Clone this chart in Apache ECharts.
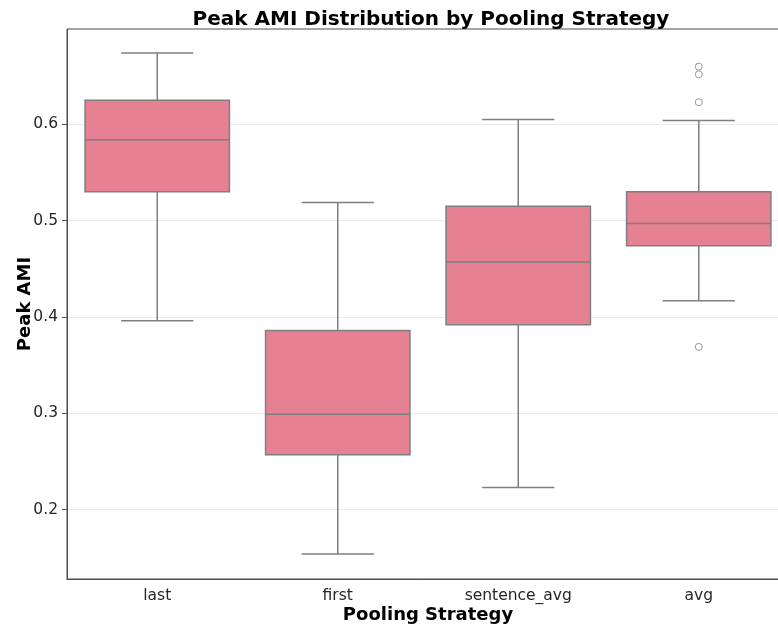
<!DOCTYPE html>
<html>
<head>
<meta charset="utf-8">
<script src="https://cdn.jsdelivr.net/npm/echarts@6/dist/echarts.min.js"></script>
<style>
  html, body { margin: 0; padding: 0; background: #fff; }
  #chart { width: 778px; height: 628px; }
</style>
</head>
<body>
<div id="chart"></div>
<script>
// pooling strategies, in plotting order
var categories = ['last', 'first', 'sentence_avg', 'avg']
// box stats
var whiskerLow = [0.396, 0.154, 0.223, 0.417]
var q1 = [0.530, 0.257, 0.392, 0.474]
var median = [0.584, 0.299, 0.457, 0.497]
var q3 = [0.625, 0.386, 0.515, 0.530]
var whiskerHigh = [0.674, 0.519, 0.605, 0.604]
// fliers: [category, value]
var outliers = [
  ['avg', 0.660],
  ['avg', 0.652],
  ['avg', 0.623],
  ['avg', 0.369]
]
var yTicks = [0.2, 0.3, 0.4, 0.5, 0.6]

var boxFill = '#e68193'
var lineColor = '#7f7f7f'

var boxData = categories.map(function (c, i) {
  return [i, whiskerLow[i], q1[i], median[i], q3[i], whiskerHigh[i]]
})

function renderBox(params, api) {
  var i = api.value(0)
  var band = api.size([1, 0])[0]
  var boxW = band * 0.8
  var capW = boxW / 2
  var pLow = api.coord([i, api.value(1)])
  var pQ1 = api.coord([i, api.value(2)])
  var pMed = api.coord([i, api.value(3)])
  var pQ3 = api.coord([i, api.value(4)])
  var pHigh = api.coord([i, api.value(5)])
  var cx = pMed[0]
  var lineStyle = { stroke: lineColor, lineWidth: 1.5, fill: null }
  return {
    type: 'group',
    children: [
      { type: 'line', shape: { x1: cx, y1: pHigh[1], x2: cx, y2: pQ3[1] }, style: lineStyle },
      { type: 'line', shape: { x1: cx, y1: pQ1[1], x2: cx, y2: pLow[1] }, style: lineStyle },
      { type: 'line', shape: { x1: cx - capW / 2, y1: pHigh[1], x2: cx + capW / 2, y2: pHigh[1] }, style: lineStyle },
      { type: 'line', shape: { x1: cx - capW / 2, y1: pLow[1], x2: cx + capW / 2, y2: pLow[1] }, style: lineStyle },
      {
        type: 'rect',
        shape: { x: cx - boxW / 2, y: pQ3[1], width: boxW, height: pQ1[1] - pQ3[1] },
        style: { fill: boxFill, stroke: lineColor, lineWidth: 1.5 }
      },
      { type: 'line', shape: { x1: cx - boxW / 2, y1: pMed[1], x2: cx + boxW / 2, y2: pMed[1] }, style: lineStyle }
    ]
  }
}

var chart = echarts.init(document.getElementById('chart'))
chart.setOption({
  animation: false,
  backgroundColor: '#fff',
  textStyle: { fontFamily: 'DejaVu Sans' },
  title: {
    text: 'Peak AMI Distribution by Pooling Strategy',
    left: 426,
    top: 5,
    textAlign: 'center',
    textStyle: { fontSize: 20, fontWeight: 'bold', color: '#000', fontFamily: 'DejaVu Sans' }
  },
  grid: {
    left: 67,
    right: -11,
    top: 29,
    bottom: 49,
    outerBoundsMode: 'none',
    containLabel: false,
    show: true,
    borderColor: '#4d4d4d',
    borderWidth: 1,
    backgroundColor: 'transparent'
  },
  xAxis: {
    type: 'category',
    data: categories,
    name: 'Pooling Strategy',
    nameLocation: 'middle',
    nameGap: 27,
    nameMoveOverlap: false,
    nameTextStyle: { fontSize: 18, fontWeight: 'bold', color: '#000' },
    axisLine: { lineStyle: { color: '#4d4d4d', width: 1 } },
    axisTick: { alignWithLabel: true, length: 5, lineStyle: { color: '#4d4d4d' } },
    axisLabel: { fontSize: 15.5, color: '#262626', margin: 9 },
    splitLine: { show: false }
  },
  yAxis: {
    type: 'value',
    min: 0.128,
    max: 0.699,
    name: 'Peak AMI',
    nameLocation: 'middle',
    nameGap: 33,
    nameMoveOverlap: false,
    nameTextStyle: { fontSize: 18, fontWeight: 'bold', color: '#000' },
    axisLine: { show: true, lineStyle: { color: '#4d4d4d', width: 1 } },
    axisTick: { show: true, length: 5, customValues: yTicks, lineStyle: { color: '#4d4d4d' } },
    axisLabel: {
      fontSize: 15.5,
      color: '#262626',
      margin: 9,
      customValues: yTicks,
      formatter: function (v) { return v.toFixed(1) }
    },
    splitLine: { show: true, lineStyle: { color: '#ebebeb', width: 1 } }
  },
  series: [
    {
      type: 'custom',
      renderItem: renderBox,
      encode: { x: 0, y: [1, 2, 3, 4, 5] },
      data: boxData,
      z: 3
    },
    {
      type: 'scatter',
      data: outliers,
      symbol: 'circle',
      symbolSize: 7,
      itemStyle: { color: '#fff', borderColor: lineColor, borderWidth: 1 },
      z: 4
    }
  ]
})
</script>
</body>
</html>
